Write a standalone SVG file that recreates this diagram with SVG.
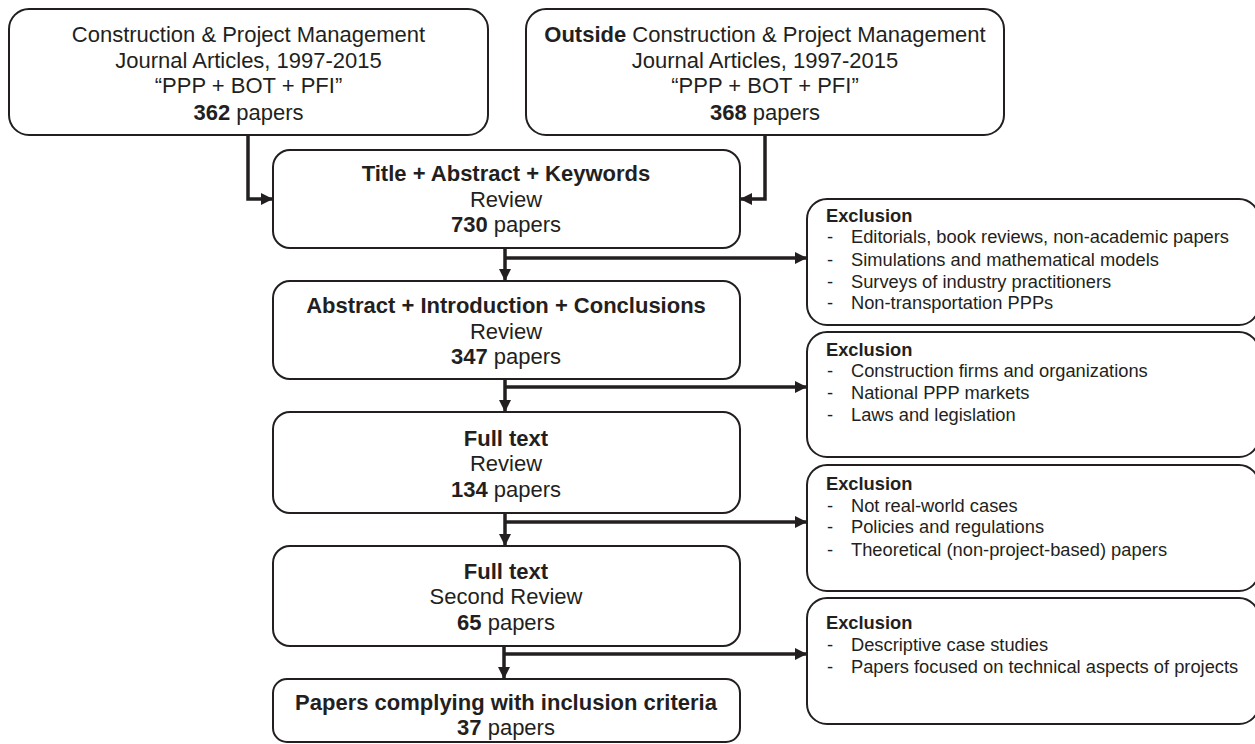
<svg xmlns="http://www.w3.org/2000/svg" width="1255" height="744" viewBox="0 0 1255 744">
  <defs>
    <style>
      .box { fill: #ffffff; stroke: #231f20; stroke-width: 2; }
      .lbl { font-family: "Liberation Sans", Arial, sans-serif; font-size: 22px; fill: #231f20; text-anchor: middle; }
      .ex { font-family: "Liberation Sans", Arial, sans-serif; font-size: 18.3px; fill: #231f20; }
      .b { font-weight: bold; }
      .conn { fill: none; stroke: #231f20; stroke-width: 3.5; }
    </style>
    <marker id="arrow" markerUnits="userSpaceOnUse" markerWidth="13" markerHeight="12" refX="12" refY="6" orient="auto">
      <path d="M0,0 L12,6 L0,12 z" fill="#231f20"/>
    </marker>
  </defs>
  <rect width="1255" height="744" fill="#ffffff"/>

  <!-- sources -->
  <g id="src-cpm">
    <rect class="box" x="9" y="9" width="479" height="126" rx="20"/>
    <text class="lbl" x="248.5" y="42">Construction &amp; Project Management</text>
    <text class="lbl" x="248.5" y="68">Journal Articles, 1997-2015</text>
    <text class="lbl" x="248.5" y="93">“PPP + BOT + PFI”</text>
    <text class="lbl" x="248.5" y="120"><tspan class="b">362</tspan> papers</text>
  </g>
  <g id="src-outside">
    <rect class="box" x="526" y="9" width="478" height="126" rx="20"/>
    <text class="lbl" x="765" y="42"><tspan class="b">Outside</tspan> Construction &amp; Project Management</text>
    <text class="lbl" x="765" y="68">Journal Articles, 1997-2015</text>
    <text class="lbl" x="765" y="93">“PPP + BOT + PFI”</text>
    <text class="lbl" x="765" y="120"><tspan class="b">368</tspan> papers</text>
  </g>

  <!-- screening stages -->
  <g id="stage-title">
    <rect class="box" x="273" y="150" width="467" height="98" rx="17"/>
    <text class="lbl b" x="506" y="181">Title + Abstract + Keywords</text>
    <text class="lbl" x="506" y="207">Review</text>
    <text class="lbl" x="506" y="232"><tspan class="b">730</tspan> papers</text>
  </g>
  <g id="stage-abstract">
    <rect class="box" x="273" y="281" width="467" height="98" rx="17"/>
    <text class="lbl b" x="506" y="313">Abstract + Introduction + Conclusions</text>
    <text class="lbl" x="506" y="339">Review</text>
    <text class="lbl" x="506" y="364"><tspan class="b">347</tspan> papers</text>
  </g>
  <g id="stage-fulltext">
    <rect class="box" x="273" y="412" width="467" height="101" rx="17"/>
    <text class="lbl b" x="506" y="446">Full text</text>
    <text class="lbl" x="506" y="471">Review</text>
    <text class="lbl" x="506" y="497"><tspan class="b">134</tspan> papers</text>
  </g>
  <g id="stage-second">
    <rect class="box" x="273" y="546" width="467" height="100" rx="17"/>
    <text class="lbl b" x="506" y="579">Full text</text>
    <text class="lbl" x="506" y="604">Second Review</text>
    <text class="lbl" x="506" y="630"><tspan class="b">65</tspan> papers</text>
  </g>
  <g id="stage-included">
    <rect class="box" x="273" y="679" width="467" height="63" rx="14"/>
    <text class="lbl b" x="506" y="710">Papers complying with inclusion criteria</text>
    <text class="lbl" x="506" y="735"><tspan class="b">37</tspan> papers</text>
  </g>

  <!-- exclusion criteria -->
  <g id="excl-1">
    <rect class="box" x="807" y="199" width="452" height="126" rx="20"/>
    <text class="ex b" x="826" y="222">Exclusion</text>
    <text class="ex" x="827" y="243">-</text><text class="ex" x="851" y="243">Editorials, book reviews, non-academic papers</text>
    <text class="ex" x="827" y="266">-</text><text class="ex" x="851" y="266">Simulations and mathematical models</text>
    <text class="ex" x="827" y="288">-</text><text class="ex" x="851" y="288">Surveys of industry practitioners</text>
    <text class="ex" x="827" y="309">-</text><text class="ex" x="851" y="309">Non-transportation PPPs</text>
  </g>
  <g id="excl-2">
    <rect class="box" x="807" y="332" width="452" height="125" rx="20"/>
    <text class="ex b" x="826" y="356">Exclusion</text>
    <text class="ex" x="827" y="377">-</text><text class="ex" x="851" y="377">Construction firms and organizations</text>
    <text class="ex" x="827" y="399">-</text><text class="ex" x="851" y="399">National PPP markets</text>
    <text class="ex" x="827" y="421">-</text><text class="ex" x="851" y="421">Laws and legislation</text>
  </g>
  <g id="excl-3">
    <rect class="box" x="807" y="465" width="452" height="126" rx="20"/>
    <text class="ex b" x="826" y="490">Exclusion</text>
    <text class="ex" x="827" y="512">-</text><text class="ex" x="851" y="512">Not real-world cases</text>
    <text class="ex" x="827" y="533">-</text><text class="ex" x="851" y="533">Policies and regulations</text>
    <text class="ex" x="827" y="556">-</text><text class="ex" x="851" y="556">Theoretical (non-project-based) papers</text>
  </g>
  <g id="excl-4">
    <rect class="box" x="807" y="598" width="452" height="126" rx="20"/>
    <text class="ex b" x="826" y="629">Exclusion</text>
    <text class="ex" x="827" y="651">-</text><text class="ex" x="851" y="651">Descriptive case studies</text>
    <text class="ex" x="827" y="673">-</text><text class="ex" x="851" y="673">Papers focused on technical aspects of projects</text>
  </g>

  <!-- connectors -->
  <g id="connectors">
    <path class="conn" d="M248,135 V199 H273" marker-end="url(#arrow)"/>
    <path class="conn" d="M765,135 V199 H740" marker-end="url(#arrow)"/>
    <path class="conn" d="M505,248 V281" marker-end="url(#arrow)"/>
    <path class="conn" d="M505,258 H807" marker-end="url(#arrow)"/>
    <path class="conn" d="M505,379 V412" marker-end="url(#arrow)"/>
    <path class="conn" d="M505,387 H807" marker-end="url(#arrow)"/>
    <path class="conn" d="M505,513 V546" marker-end="url(#arrow)"/>
    <path class="conn" d="M505,522 H807" marker-end="url(#arrow)"/>
    <path class="conn" d="M504,646 V679" marker-end="url(#arrow)"/>
    <path class="conn" d="M504,654 H807" marker-end="url(#arrow)"/>
  </g>
</svg>
